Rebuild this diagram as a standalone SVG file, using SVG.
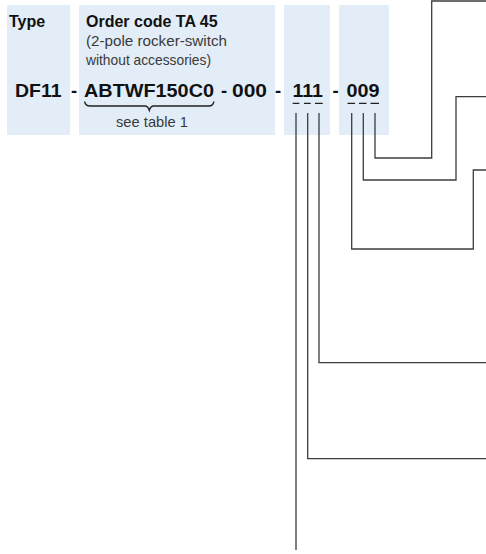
<svg xmlns="http://www.w3.org/2000/svg" width="486" height="554" viewBox="0 0 486 554">
<style>
.box{fill:#e3edf7}
.hd{font-family:"Liberation Sans",Arial,sans-serif;font-weight:bold;font-size:16px;fill:#111}
.sm{font-family:"Liberation Sans",Arial,sans-serif;font-size:14.5px;fill:#3a3a3a}
.code{font-family:"Liberation Sans",Arial,sans-serif;font-weight:bold;font-size:18.5px;fill:#111}
.ln{fill:none;stroke:#3c3c3c;stroke-width:1.3}
.ul{fill:none;stroke:#222;stroke-width:1.3}
</style>
<rect width="486" height="554" fill="#fff"/>
<g id="type-col">
<rect class="box" x="7" y="5" width="63" height="130"/>
<text class="hd" x="9" y="26.5">Type</text>
</g>
<g id="order-col">
<rect class="box" x="79" y="5" width="196" height="130"/>
<text class="hd" x="86" y="26.5">Order code TA 45</text>
<text class="sm" x="86" y="46" textLength="141" lengthAdjust="spacingAndGlyphs">(2-pole rocker-switch</text>
<text class="sm" x="86" y="65" textLength="125" lengthAdjust="spacingAndGlyphs">without accessories)</text>
</g>
<g id="col-111"><rect class="box" x="284" y="5" width="46" height="130"/></g>
<g id="col-009"><rect class="box" x="339" y="5" width="50" height="130"/></g>
<g id="code">
<text class="code" x="15" y="97.3" textLength="46.5" lengthAdjust="spacingAndGlyphs">DF11</text>
<text class="code" x="71" y="97.3">-</text>
<text class="code" x="84" y="97.3" textLength="130" lengthAdjust="spacingAndGlyphs">ABTWF150C0</text>
<text class="code" x="221" y="97.3">-</text>
<text class="code" x="232" y="97.3" textLength="35" lengthAdjust="spacingAndGlyphs">000</text>
<text class="code" x="275" y="97.3">-</text>
<text class="code" x="292.5" y="97.3" textLength="30.5" lengthAdjust="spacingAndGlyphs">111</text>
<text class="code" x="332.5" y="97.3">-</text>
<text class="code" x="346.5" y="97.3" textLength="33" lengthAdjust="spacingAndGlyphs">009</text>
</g>
<g id="brace">
<path class="ul" stroke-width="1" d="M84.5,101.5 Q85.5,106 90,106 L145,106 Q148,106 149.3,110.5 Q150.6,106 153.6,106 L209,106 Q213,106 214,101.5"/>
<text class="sm" x="116" y="127" textLength="72" lengthAdjust="spacingAndGlyphs">see table 1</text>
</g>
<g id="connectors">
<path class="ul" d="M292.7,103.3H299.3M304,103.3H310.7M315,103.3H322.7M347.5,103.3H355M359,103.3H366.5M370.5,103.3H379"/>
<path class="ln" d="M375,113V158H431.7V1H486"/>
<path class="ln" d="M363.3,113V180H456V96.7H486"/>
<path class="ln" d="M351.7,113V249H473.3V170H486"/>
<path class="ln" d="M319,113V362.7H486"/>
<path class="ln" d="M307.7,113V458.7H486"/>
<path class="ln" d="M296,113V550"/>
</g>
</svg>
